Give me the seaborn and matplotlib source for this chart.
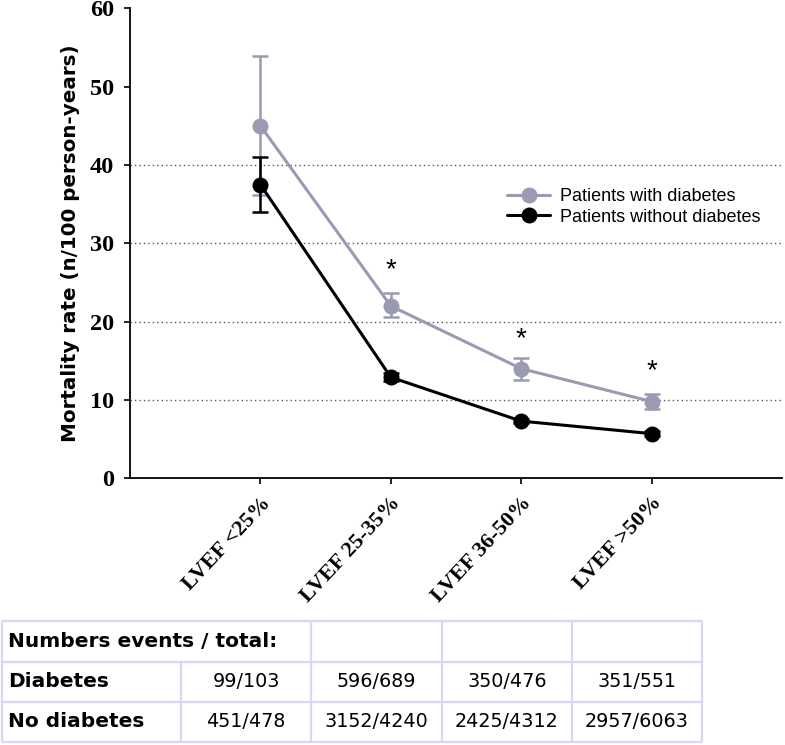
import matplotlib
matplotlib.use("Agg")
import matplotlib.pyplot as plt
import numpy as np
import pandas as pd
import seaborn as sns

CATEGORIES = ["LVEF <25%", "LVEF 25-35%", "LVEF 36-50%", "LVEF >50%"]
GROUPS = ["Patients with diabetes", "Patients without diabetes"]

DIAB_RATE = [45.0, 22.0, 14.0, 9.8]
DIAB_LOW = [36.2, 20.6, 12.6, 8.8]
DIAB_HIGH = [53.9, 23.6, 15.4, 10.7]

NODIAB_RATE = [37.5, 12.9, 7.3, 5.7]
NODIAB_LOW = [34.0, 12.4, 7.0, 5.4]
NODIAB_HIGH = [41.0, 13.4, 7.6, 6.0]

# y position of the significance stars (None = no star)
STAR_Y = [None, 27.5, 18.7, 14.5]

TABLE_TITLE = "Numbers events / total:"
ROW_LABELS = ["Diabetes", "No diabetes"]
DIAB_COUNTS = ["99/103", "596/689", "350/476", "351/551"]
NODIAB_COUNTS = ["451/478", "3152/4240", "2425/4312", "2957/6063"]

GREY = "#9a9ab2"
BLACK = "#000000"
TABLE_LINE = "#d8d8f6"

W, H = 785, 745


def build_frame() -> pd.DataFrame:
    pos = np.arange(1, len(CATEGORIES) + 1)
    diab = pd.DataFrame({"pos": pos, "rate": DIAB_RATE, "group": GROUPS[0]})
    nodiab = pd.DataFrame({"pos": pos, "rate": NODIAB_RATE, "group": GROUPS[1]})
    return pd.concat([diab, nodiab], ignore_index=True)


def draw_chart(fig) -> None:
    ax = fig.add_axes([130 / W, 1 - 478.3 / H, (782 - 130) / W, 470 / H])
    df = build_frame()
    pos = np.arange(1, len(CATEGORIES) + 1)

    for y in [10, 20, 30, 40]:
        ax.axhline(y, color="#555555", linestyle=(0, (1, 2.2)), linewidth=1.0, zorder=0)

    # grey series first, black drawn over it
    for rate, low, high, color in [
        (DIAB_RATE, DIAB_LOW, DIAB_HIGH, GREY),
        (NODIAB_RATE, NODIAB_LOW, NODIAB_HIGH, BLACK),
    ]:
        rate = np.array(rate)
        yerr = [rate - np.array(low), np.array(high) - rate]
        ax.errorbar(pos, rate, yerr=yerr, fmt="none", ecolor=color,
                    elinewidth=1.8, capsize=6, capthick=1.8, zorder=2)

    sns.lineplot(
        data=df, x="pos", y="rate", hue="group", style="group",
        hue_order=GROUPS, style_order=GROUPS,
        palette={GROUPS[0]: GREY, GROUPS[1]: BLACK},
        markers=["o", "o"], dashes=False, linewidth=2.2,
        markersize=11.5, markeredgewidth=0, ax=ax, zorder=3,
    )

    for x, y in zip(pos, STAR_Y):
        if y is None:
            continue
        ax.annotate("*", xy=(x, y), xytext=(0, -10), textcoords="offset points",
                    ha="center", va="baseline", fontsize=20,
                    family=["Liberation Sans", "DejaVu Sans"], color="black")

    ax.set_xlim(0, 5)
    ax.set_ylim(0, 60)
    ax.set_yticks(range(0, 61, 10))
    ax.set_xticks(pos)
    ax.set_xticklabels([""] * len(pos))
    # category labels, rotated and anchored at their right end below each tick
    for x, cat in zip(pos, CATEGORIES):
        ax.annotate(cat, xy=(x, 0), xycoords=("data", "axes fraction"),
                    xytext=(5, -15.5), textcoords="offset points",
                    rotation=47, rotation_mode="anchor", ha="right", va="center",
                    fontsize=16, fontweight="bold", family="Liberation Serif",
                    color="black", annotation_clip=False)
    for lab in ax.get_yticklabels():
        lab.set_fontsize(17.5)
        lab.set_family("Liberation Serif")
        lab.set_fontweight("bold")
        lab.set_color("black")
    ax.tick_params(axis="both", direction="out", length=4.5, width=1.2, color="black")
    ax.tick_params(axis="y", pad=7)
    ax.set_xlabel("")
    ax.set_ylabel("Mortality rate (n/100 person-years)", fontsize=14.3,
                  fontweight="bold", family="DejaVu Sans", color="black")
    ax.yaxis.set_label_coords(-0.076, 0.5)

    for side in ["top", "right"]:
        ax.spines[side].set_visible(False)
    for side in ["left", "bottom"]:
        ax.spines[side].set_color("black")
        ax.spines[side].set_linewidth(1.3)

    handles, labels = ax.get_legend_handles_labels()
    keep = [(h, l) for h, l in zip(handles, labels) if l in GROUPS]
    leg = ax.legend([h for h, _ in keep], [l for _, l in keep],
                    loc="upper left", bbox_to_anchor=(507 / W, 1 - 188 / H),
                    bbox_transform=fig.transFigure, frameon=False,
                    borderpad=0, borderaxespad=0, handlelength=2.4,
                    handletextpad=0.55, labelspacing=0.2,
                    prop={"family": "Liberation Sans", "size": 13})
    for t in leg.get_texts():
        t.set_color("black")


def draw_table(fig) -> None:
    tx = fig.add_axes([0, 0, 1, 1])
    tx.set_xlim(0, W)
    tx.set_ylim(H, 0)
    tx.axis("off")

    rows = [620.7, 661.7, 701.7, 741.7]
    cols = [2, 181, 311, 442, 572, 702]
    lw = 1.6

    tx.hlines(rows, cols[0], cols[-1], color=TABLE_LINE, linewidth=lw)
    tx.vlines([cols[0], cols[-1]], rows[0], rows[-1], color=TABLE_LINE, linewidth=lw)
    tx.vlines(cols[2:5], rows[0], rows[-1], color=TABLE_LINE, linewidth=lw)
    tx.vlines(cols[1], rows[1], rows[-1], color=TABLE_LINE, linewidth=lw)

    font = ["DejaVu Sans"]
    centers = [(rows[i] + rows[i + 1]) / 2 for i in range(3)]
    tx.text(8, centers[0], TABLE_TITLE, ha="left", va="center",
            fontsize=14.5, fontweight="bold", family=font, color="black")
    for r, (label, counts) in enumerate(zip(ROW_LABELS, [DIAB_COUNTS, NODIAB_COUNTS])):
        yc = centers[r + 1]
        tx.text(8, yc, label, ha="left", va="center",
                fontsize=14.5, fontweight="bold", family=font, color="black")
        for c, value in enumerate(counts):
            xc = (cols[c + 1] + cols[c + 2]) / 2
            tx.text(xc, yc, value, ha="center", va="center",
                    fontsize=13.8, family=font, color="black")


def main() -> None:
    sns.set_style("ticks")
    plt.rcParams["font.family"] = ["DejaVu Sans"]
    plt.rcParams["text.color"] = "black"
    fig = plt.figure(figsize=(W / 100, H / 100), dpi=100)
    draw_chart(fig)
    draw_table(fig)
    fig.savefig("out.png", dpi=100, facecolor="white")
    plt.close(fig)


if __name__ == "__main__":
    main()
